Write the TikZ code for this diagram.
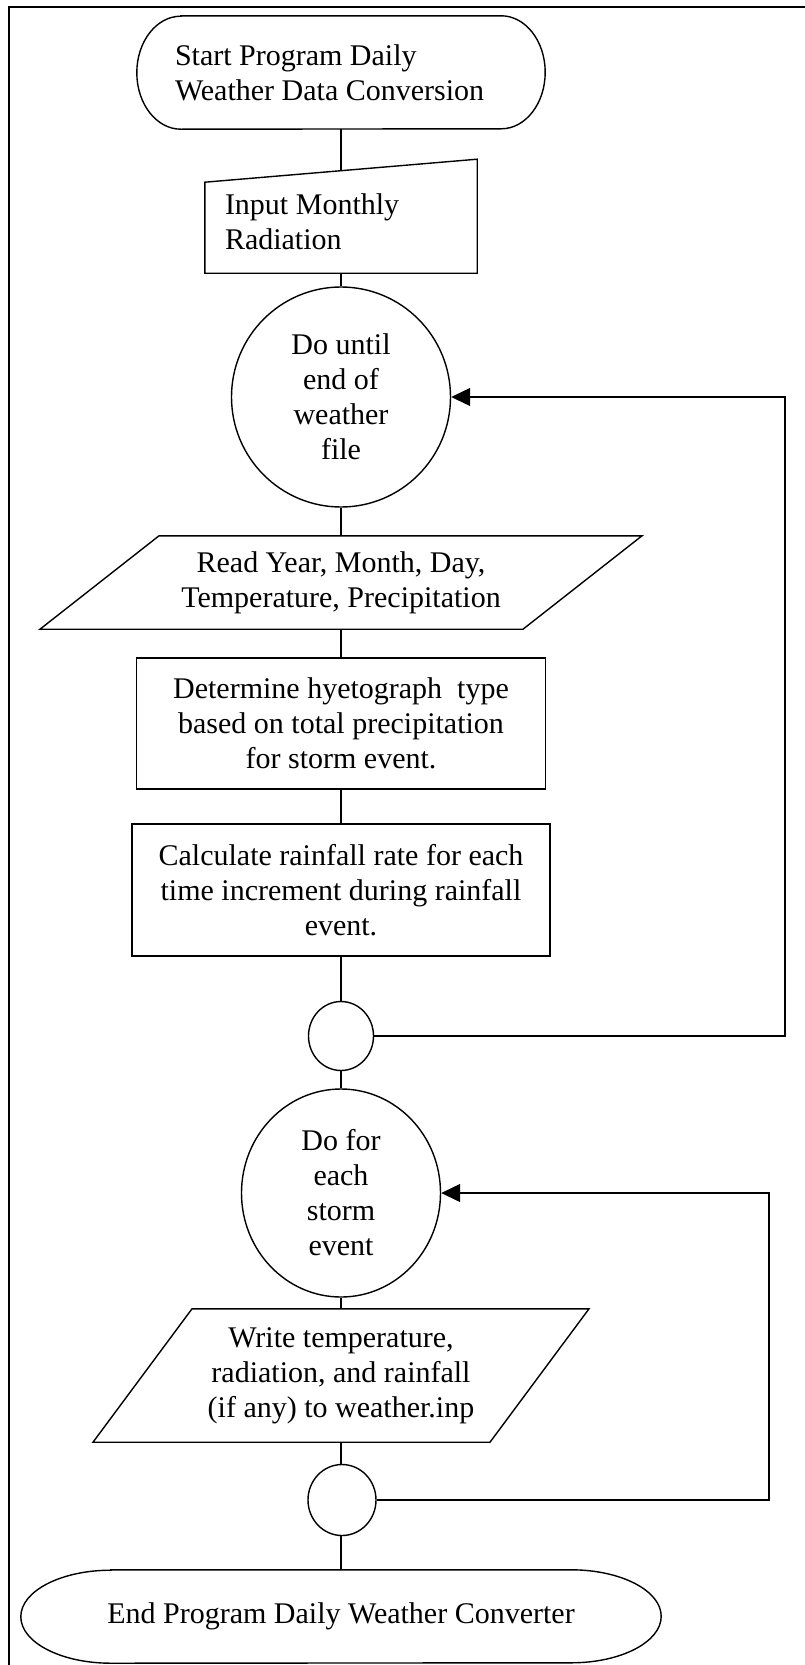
\documentclass[tikz,border=0pt]{standalone}
\usepackage{fontspec}
\setmainfont{Liberation Serif}
\usetikzlibrary{arrows.meta,calc,shapes.geometric}

\begin{document}
\begin{tikzpicture}[x=1pt,y=1pt,
  every node/.style={font=\fontsize{30}{35}\selectfont, inner sep=0pt},
  flow/.style={line width=1.2pt},
  outline/.style={line width=1.4pt},
  loopback/.style={line width=1.2pt, -{Triangle[length=19pt,width=18pt]}},
  procbox/.style={draw, outline, rectangle, align=center},
  loopcircle/.style={draw, outline, ellipse, align=center},
  joint/.style={draw, outline, ellipse}
]
\useasboundingbox (0,0) rectangle (804,-1665);

% page frame
\draw[line width=2pt] (9,-1680) -- (9,-7) -- (820,-7);

% start terminator
\node[align=flush left, text width=332pt, minimum width=408pt, minimum height=113pt] (start) at (341,-72.5)
  {Start Program Daily\\Weather Data Conversion};
\draw[outline] ($(start.north west)+(44,0)$) -- ($(start.north east)+(-44,0)$)
  arc[start angle=90, end angle=-90, x radius=44, y radius=56.5]
  -- ($(start.south west)+(44,0)$)
  arc[start angle=270, end angle=90, x radius=44, y radius=56.5] -- cycle;

% manual input
\node[align=flush left, text width=232pt, minimum width=272pt, minimum height=102pt] (input) at (341,-222)
  {Input Monthly\\Radiation};
\draw[outline] (input.south west) -- ++(0,91) -- ($(input.south east)+(0,114)$)
  -- (input.south east) -- cycle;

% outer loop
\node[loopcircle, minimum width=219pt, minimum height=220pt] (c1) at (341,-397)
  {Do until\\end of\\weather\\file};

\node[minimum width=483pt, minimum height=93pt, align=center] (read) at (341,-582.5)
  {Read Year, Month, Day,\\Temperature, Precipitation};
\draw[outline] ($(read.north)+(-182,0)$) -- ($(read.north)+(301,0)$)
  -- ($(read.south)+(182,0)$) -- ($(read.south)+(-301,0)$) -- cycle;

\node[procbox, minimum width=409pt, minimum height=131pt] (hyeto) at (341,-723.5)
  {Determine hyetograph~ type\\based on total precipitation\\for storm event.};

\node[procbox, minimum width=418pt, minimum height=132pt] (rate) at (341,-890)
  {Calculate rainfall rate for each\\time increment during rainfall\\event.};

\node[joint, minimum width=65pt, minimum height=69pt] (j1) at (341,-1036) {};

% inner loop
\node[loopcircle, minimum width=199pt, minimum height=208pt] (c2) at (341,-1193)
  {Do for\\each\\storm\\event};

\node[minimum width=397pt, minimum height=133pt, align=center] (write) at (341,-1375.5)
  {Write temperature,\\radiation, and rainfall\\(if any) to weather.inp};
\draw[outline] ($(write.north)+(-149,0)$) -- ($(write.north)+(248,0)$)
  -- ($(write.south)+(149,0)$) -- ($(write.south)+(-248,0)$) -- cycle;

\node[joint, minimum width=68pt, minimum height=71pt] (j2) at (342,-1500) {};

% end terminator
\node[minimum width=640pt, minimum height=93pt, align=center] (stop) at (341,-1616.5)
  {End Program Daily Weather Converter};
\draw[outline] ($(stop.north west)+(90,0)$) -- ($(stop.north east)+(-90,0)$)
  arc[start angle=90, end angle=-90, x radius=90, y radius=46.5]
  -- ($(stop.south west)+(90,0)$)
  arc[start angle=270, end angle=90, x radius=90, y radius=46.5] -- cycle;

% flow connectors
\draw[flow] (start.south) -- (input.north);
\draw[flow] (input.south) -- (c1.north);
\draw[flow] (c1.south) -- (read.north);
\draw[flow] (read.south) -- (hyeto.north);
\draw[flow] (hyeto.south) -- (rate.north);
\draw[flow] (rate.south) -- (j1.north);
\draw[flow] (j1.south) -- (c2.north);
\draw[flow] (c2.south) -- (write.north);
\draw[flow] (write.south) -- (j2.north -| write.south);
\draw[flow] (j2.south -| stop.north) -- (stop.north);

% loop returns
\coordinate (r1) at (785,-397);
\draw[loopback] (j1.east) -| (r1) -- (c1.east);
\coordinate (r2) at (769,-1193);
\draw[loopback] (j2.east) -| (r2) -- (c2.east);
\end{tikzpicture}
\end{document}
